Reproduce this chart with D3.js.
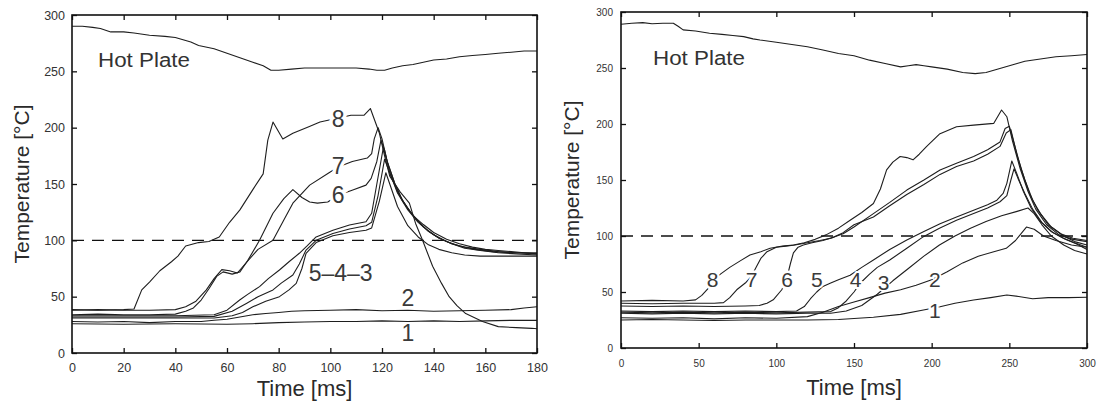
<!DOCTYPE html>
<html>
<head>
<meta charset="utf-8">
<script src="https://cdn.jsdelivr.net/npm/d3@7"></script>
<style>
  html, body { margin: 0; padding: 0; background: #fff; }
  svg { display: block; }
  text { font-family: "Liberation Sans", Arial, sans-serif; }
</style>
</head>
<body>
<svg id="chart" width="1097" height="405"></svg>
<script>
// ---------------- DATA ----------------
// Left panel (0-180 ms)
const leftXTicks = [0, 20, 40, 60, 80, 100, 120, 140, 160, 180];
const leftYTicks = [0, 50, 100, 150, 200, 250, 300];
const leftHot = [[0,290],[4,290],[8,289],[11,288],[15,285],[20,285],[24,284],[30,282],[36,281],[40,280],[43,278],[46,276],[49,273],[55,270],[60,266],[65,262],[70,258],[74,255],[77,251],[80,251],[85,252],[90,253],[95,253],[100,253],[105,253],[110,253],[115,252],[118,251],[121,251],[124,253],[128,255],[132,256],[136,258],[140,260],[145,261],[150,263],[155,264],[160,265],[165,266],[170,267],[175,268],[180,268]];
const left8 = [[0,38.5],[10,38],[20,38.5],[24,39],[27,56],[30,63],[34,73],[38.5,81],[41,86],[44,95],[49,98],[53,99],[57,103],[61,116],[65,127],[70,145],[74,159],[75.8,189],[77.8,205],[81.6,190],[85.5,195],[91.9,201],[96,205],[100,207],[104,209],[108,211],[113,211],[115.5,217],[119,195],[121,175],[123,157],[127,143],[130.6,133],[133,115],[135.7,100],[139.6,77],[143,62],[146,50],[149,42],[152.4,35],[158.9,28],[165,23.4],[172,22.5],[178,21.9],[180,21.5]];
const left7 = [[0,38],[10,38.5],[20,38],[30,38],[40,38.5],[44,41],[48,46],[52,56],[55,66],[58,74],[61,73],[64,71],[67,79],[72,92],[77.8,100],[82,118],[85.5,133],[92,149],[99.5,160],[103,165],[108.5,170],[114.3,173],[116,177],[117,190],[118.5,200],[120,190],[122,170],[125,150],[128,135],[132,122],[136,114],[140,107],[145,101],[150,97],[155,94],[160,92],[165,91],[170,90],[175,89],[180,88]];
const left6 = [[0,34],[10,34.5],[20,34],[30,34],[40,34.5],[44,37],[47,40],[50,47],[53,57],[56,68],[58.5,72],[62,70],[65,72],[68,82],[72.6,100],[77.8,124],[82,137],[85.5,145],[89,138],[92,134],[95,133],[99,134],[103,140],[108.7,144.7],[113.8,149],[115.8,155],[118,170],[119.6,189],[121,180],[123,160],[126,143],[130,128],[134,117],[138,108],[142,102],[147,97],[152,94],[158,92],[165,90],[172,89],[180,88]];
const left5 = [[0,33],[20,33],[40,33],[55,34],[60,38],[64.9,47],[68,52],[72.6,58.9],[76,66],[80.3,73.7],[84,81],[88,88.5],[91,95],[94.5,103],[101,109],[107.4,113.6],[113.8,116.5],[116,124],[118,150],[120.5,182],[122,170],[125,150],[128,135],[132,122],[136,112],[140,105],[145,99],[150,95],[156,92],[163,90],[170,89],[180,89]];
const left4 = [[0,32],[20,32],[40,32],[55,32.5],[62,37],[67.5,44],[72,50],[77.8,56],[81,62],[85.5,69.2],[88,79],[90.6,91.4],[94.5,100],[101,106],[107.4,110],[113.8,113],[116,116],[118.5,140],[121,172],[123,160],[126,142],[130,127],[134,116],[138,108],[142,102],[147,97],[152,93],[158,91],[165,89],[172,88],[180,87]];
const left3 = [[0,31],[20,31],[40,31],[55,31],[62,33],[66,36],[70,41],[75,46],[80.3,50],[84,56],[86.8,61.8],[89,75],[90.6,88.5],[94.5,98],[101,104],[107.4,107],[113.8,109],[116,111],[119,135],[121.5,160],[123,150],[126,130],[130,113],[134,103],[138,96],[142,92],[147,89],[152,87],[158,86],[165,86],[172,86],[180,86]];
const left2 = [[0,28],[10,27.5],[20,28],[30,27],[40,28],[50,28],[55,29],[60,30],[65,32],[70,34],[75,35],[80,36],[85,37],[90,37.5],[100,38],[110,38.5],[120,37.5],[130,38],[140,37],[150,37.5],[160,38],[170,38.5],[175,40],[180,41]];
const left1 = [[0,26],[20,25.5],[40,26],[60,25.5],[70,26],[80,27],[90,27.5],[100,28],[110,28],[120,28.5],[130,28],[140,28.5],[150,28],[160,28.5],[170,29],[180,29]];
const leftLabels = ["8", "7", "6", "5\u20134\u20133", "2", "1"];
const leftLabelAt = [[103,208],[103,166],[103,140],[104,71],[130,49],[130,18]];

// Right panel (0-300 ms)
const rightXTicks = [0, 50, 100, 150, 200, 250, 300];
const rightYTicks = [0, 50, 100, 150, 200, 250, 300];
const rightHot = [[0,289],[7,290],[14,290.5],[20,289.5],[27,290],[33.7,290],[37,287],[40,284],[48,283],[57,281],[65,280],[72,279],[79,278],[85,276],[89.5,275],[100,273],[110,271],[120,269],[130,266],[140,263],[150,261],[160,257],[170,254],[180,251],[185,252],[190,253],[195,252],[200,251],[210,249],[220,246],[228,245],[235,246],[240,248],[245,250],[250,252],[255,254],[260,256],[270,258],[280,260],[290,261],[300,262]];
const right8 = [[0,42],[20,42.5],[40,42],[48,43],[52,47],[56,53],[59,60],[64,66],[70,72],[77,78],[83,83],[90,86],[96,89],[104,91],[111,92],[118,94],[125,97],[132,101],[140,107],[147.5,114],[155,121],[162.5,129],[167,142],[171,159],[175,166],[179.7,171],[184,170],[188,168],[192,173],[196.8,180],[205,191],[216,197.6],[227,199],[240,200.6],[245,212.5],[248.4,206.5],[252,185],[257,160],[262,140],[267,124],[274,110],[282,101],[291,97],[300,95]];
const right7 = [[0,40],[20,39.5],[40,40],[60,40],[66,40.5],[70,45],[74.5,52],[80,58],[84,64],[87,72],[90,80],[94,86],[100,90],[106,91],[112,92],[120,94],[128,96],[135,98],[143,102],[150,108],[162.5,120],[173,130],[184,141],[195,150],[205.4,159],[216,165],[227,171],[236,177],[244,184],[247.3,196],[250,198],[254,178],[258,158],[263,138],[268,124],[275,110],[283,102],[291,98],[300,96]];
const right6 = [[0,37.5],[20,37],[40,37.5],[60,37],[80,37.5],[89,38],[94,40],[98,43],[103.5,52],[106.7,62],[109,75],[111,85],[114,90],[117.4,92],[123,94],[130,96],[137,99],[143,103],[150,110],[162.5,117],[173,127],[184,137],[195,146],[205.4,155],[216,162],[227,167],[236,173],[244,180],[248,192],[251,195],[255,172],[260,150],[265,132],[270,120],[277,108],[285,100],[292,95],[300,92]];
const right5 = [[0,33],[20,32.5],[40,33],[60,32.5],[80,33],[100,32.5],[113,33],[118,37],[122,44],[126,50],[130,55],[135,58],[140,61],[147.5,65],[155,72],[162.5,78.6],[173,88],[184,96.4],[195,104],[205.4,111],[216,117],[227,123],[236,128],[242,132],[246,138],[248.4,147],[251.6,167],[255,155],[259,140],[264,125],[270,113],[277,104],[285,98],[292,94],[300,90]];
const right4 = [[0,32],[20,31.5],[40,32],[60,31.5],[80,32],[100,31.5],[120,32],[135,32.5],[140,36],[145,42],[150,50],[154,57.8],[160,66],[165,72],[173,78.6],[184,89],[194.7,99.4],[205,107],[216,114],[227,120],[236,125],[244,130.6],[248.4,136],[251,150],[253,160],[256,150],[260,138],[265,124],[271,112],[278,103],[286,97],[293,93],[300,88]];
const right3 = [[0,31],[20,30.5],[40,31],[60,30.5],[80,31],[100,30.5],[120,31],[135,31],[145,33],[155,38],[165,48],[175,60],[185,71],[195,82],[205,92],[215,100],[225,107],[235,113],[245,118],[255,122],[262,125],[266,120],[271,110],[277,100],[285,92],[292,87],[300,84]];
const right2 = [[0,27],[20,26.5],[40,27],[60,26],[80,27],[100,26.5],[120,28],[130,32],[140,37],[150,41],[160,45],[170,49],[180,52],[190,56],[200,61],[210,68],[220,76],[230,82],[240,86],[248,89],[254,96],[261,108],[266,106],[272,100],[280,96],[290,92],[300,90]];
const right1 = [[0,25],[20,25.5],[40,25],[60,24.5],[80,25],[100,25],[120,25],[140,25.5],[162.5,27.4],[180,30],[194.7,34],[205.4,36.9],[215,40],[227,42.9],[238,45],[248.4,47.3],[256,46],[265,44],[275,45],[288,45],[300,45.3]];
const rightLabels = ["8", "7", "6", "5", "4", "3", "2", "1"];
const rightLabelAt = [[59,61],[84,61],[107,61],[126,61],[151,61],[169,58],[202,61],[202,33]];

const threshold = 100;

// ---------------- DRAW ----------------
const svg = d3.select("#chart");
svg.append("rect").attr("width", 1097).attr("height", 405).attr("fill", "#fff");

function panel(opts) {
  const x = d3.scaleLinear().domain(opts.xDomain).range(opts.xRange);
  const y = d3.scaleLinear().domain(opts.yDomain).range(opts.yRange);
  const g = svg.append("g");
  const line = d3.line().x(d => x(d[0])).y(d => y(d[1]));

  // threshold dashed
  g.append("line")
    .attr("x1", x(opts.xDomain[0])).attr("x2", x(opts.xDomain[1]))
    .attr("y1", y(threshold)).attr("y2", y(threshold))
    .attr("stroke", "#111").attr("stroke-width", 1.4)
    .attr("stroke-dasharray", "12,8");

  // series
  opts.series.forEach(s => {
    g.append("path").attr("d", line(s))
      .attr("fill", "none").attr("stroke", "#1e1e1e")
      .attr("stroke-width", 1.1).attr("stroke-linejoin", "round");
  });

  // labels
  opts.labels.forEach((lab, i) => {
    const p = opts.labelAt[i];
    g.append("text").text(lab)
      .attr("x", x(p[0])).attr("y", y(p[1]))
      .attr("text-anchor", "middle").attr("dy", "0.35em")
      .attr("font-size", opts.labelSize)
      .attr("fill", "#3a3a3a")
      .attr("stroke", opts.halo[i] ? "#fff" : "none")
      .attr("stroke-width", opts.halo[i] || 0)
      .attr("paint-order", "stroke");
  });

  // hot plate label
  g.append("text").text("Hot Plate")
    .attr("x", opts.hotX).attr("y", opts.hotY)
    .attr("font-size", 20).attr("fill", "#333")
    .attr("textLength", 92).attr("lengthAdjust", "spacingAndGlyphs");

  // axes (inward ticks)
  const bottom = d3.axisBottom(x).tickValues(opts.xTicks).tickSizeInner(-5).tickSizeOuter(0)
    .tickPadding(opts.xPad).tickFormat(d3.format("d"));
  const left = d3.axisLeft(y).tickValues(opts.yTicks).tickSizeInner(-5).tickSizeOuter(0)
    .tickPadding(opts.yPad).tickFormat(d3.format("d"));
  const top = d3.axisTop(x).tickValues(opts.xTicks).tickSizeInner(-5).tickSizeOuter(0).tickFormat("");
  const right = d3.axisRight(y).tickValues(opts.yTicks).tickSizeInner(-5).tickSizeOuter(0).tickFormat("");

  const ax = [
    g.append("g").attr("transform", `translate(0,${opts.yRange[0]})`).call(bottom),
    g.append("g").attr("transform", `translate(${opts.xRange[0]},0)`).call(left),
    g.append("g").attr("transform", `translate(0,${opts.yRange[1]})`).call(top),
    g.append("g").attr("transform", `translate(${opts.xRange[1]},0)`).call(right)
  ];
  ax.forEach(a => {
    a.select(".domain").remove();
    a.selectAll(".tick line").attr("stroke", "#111").attr("stroke-width", 1.3);
    a.selectAll(".tick text").attr("font-size", opts.tickSize).attr("fill", "#333")
      .attr("font-family", "'Liberation Sans', Arial, sans-serif");
  });

  // frame
  g.append("rect")
    .attr("x", opts.xRange[0]).attr("y", opts.yRange[1])
    .attr("width", opts.xRange[1] - opts.xRange[0])
    .attr("height", opts.yRange[0] - opts.yRange[1])
    .attr("fill", "none").attr("stroke", "#111").attr("stroke-width", 1.6);

  // axis titles
  g.append("text").text("Time [ms]")
    .attr("x", (opts.xRange[0] + opts.xRange[1]) / 2).attr("y", opts.xTitleY)
    .attr("text-anchor", "middle").attr("font-size", 22).attr("fill", "#2a2a2a");
  g.append("text").text("Temperature [°C]")
    .attr("transform", `translate(${opts.yTitleX},${(opts.yRange[0] + opts.yRange[1]) / 2}) rotate(-90)`)
    .attr("text-anchor", "middle").attr("font-size", 21).attr("fill", "#2a2a2a");
}

panel({
  xDomain: [0, 180], xRange: [72, 537],
  yDomain: [0, 300], yRange: [353, 15],
  xTicks: leftXTicks, yTicks: leftYTicks,
  series: [leftHot, left8, left7, left6, left5, left4, left3, left2, left1],
  labels: leftLabels, labelAt: leftLabelAt, labelSize: 23,
  halo: [7, 7, 7, 0, 0, 0],
  hotX: 98, hotY: 67,
  xPad: 10, yPad: 7, tickSize: 12.5,
  xTitleY: 396, yTitleX: 29
});

panel({
  xDomain: [0, 300], xRange: [621, 1087],
  yDomain: [0, 300], yRange: [348, 12],
  xTicks: rightXTicks, yTicks: rightYTicks,
  series: [rightHot, right8, right7, right6, right5, right4, right3, right2, right1],
  labels: rightLabels, labelAt: rightLabelAt, labelSize: 21,
  halo: [5, 5, 5, 4, 4, 3, 4, 5],
  hotX: 653, hotY: 65,
  xPad: 12, yPad: 8, tickSize: 10,
  xTitleY: 395, yTitleX: 579
});
</script>
</body>
</html>
